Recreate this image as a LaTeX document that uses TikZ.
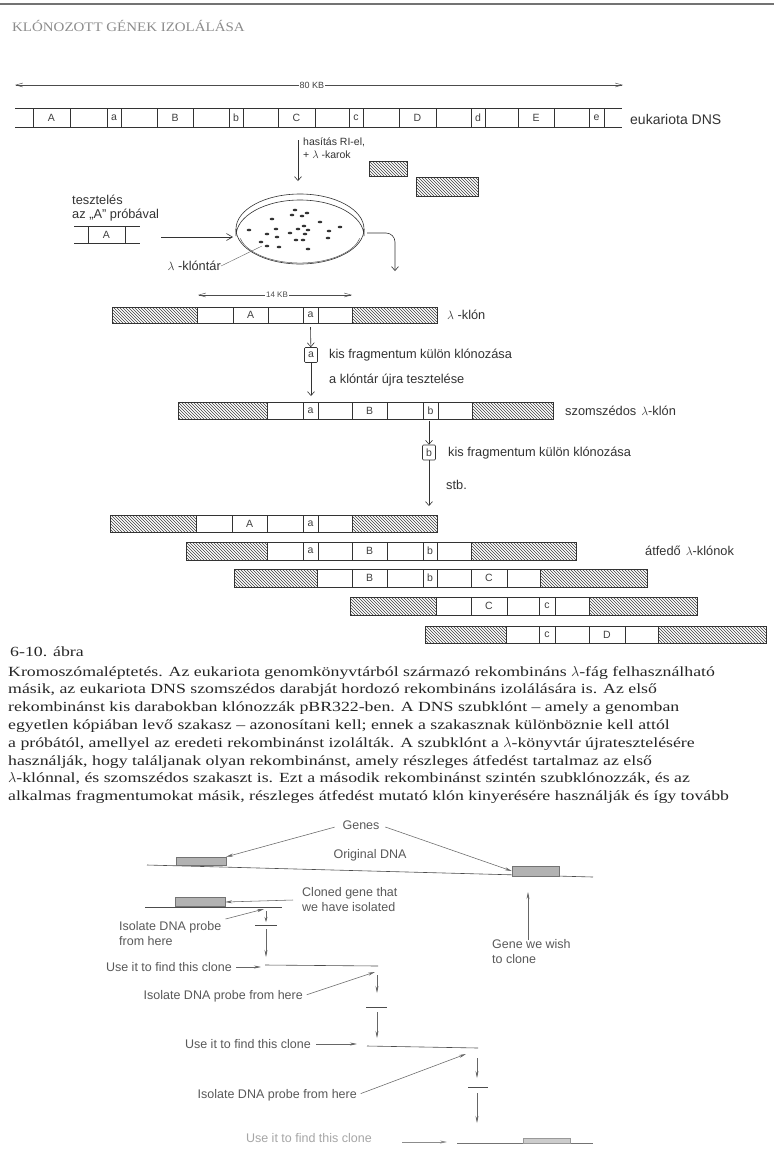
\documentclass[tikz,border=0pt]{standalone}
\usepackage{fontspec}
\setmainfont{Liberation Serif}
\setsansfont{Liberation Sans}
\newfontfamily\capfont[FakeStretch=1.27]{Liberation Serif}
\newfontfamily\ttlfont[FakeStretch=1.15]{Liberation Serif}
\usetikzlibrary{arrows.meta, patterns, positioning, calc}

\tikzset{
  hatch/.style={pattern=north west lines, pattern color=black!75},
  barline/.style={draw=black!80, line width=0.55pt},
  seglbl/.style={font=\sffamily\fontsize{10.5}{12}\selectfont, text=black!75, inner sep=0pt},
  sidelbl/.style={font=\sffamily\fontsize{12.8}{14}\selectfont, text=black!80, inner sep=0pt, anchor=west},
  fragbox/.style={draw=black!80, line width=0.6pt, rounded corners=1pt, seglbl, minimum width=13pt, minimum height=15pt},
  flow/.style={black!80, line width=0.6pt, -{Straight Barb[length=4pt,width=7pt]}},
  spanto/.style={black!70, line width=0.45pt, -{Straight Barb[length=7pt,width=4pt]}},
  capline/.style={font=\capfont\fontsize{14}{17.8}\selectfont, text=black!85, anchor=base west, inner sep=0pt},
  genebox/.style={fill=black!30, draw=black!55, line width=0.4pt, inner sep=0pt, minimum height=8pt},
  note/.style={font=\sffamily\fontsize{12.5}{15.5}\selectfont, text=black!65, inner sep=0pt},
  dnaline/.style={black!70, line width=0.6pt},
  pointer/.style={black!60, line width=0.55pt, -{Stealth[length=7pt,width=3pt]}},
}

\begin{document}
\begin{tikzpicture}[x=1pt, y=-1pt]
  \useasboundingbox (0,0) rectangle (774,1157);
  \fill[white] (0,0) rectangle (774,1157);

  % page header
  \draw[black!55, line width=2.5pt] (0,4) -- (774,4);
  \node[font=\ttlfont\fontsize{13}{15}\selectfont, text=black!45, anchor=west, inner sep=0pt] (pagettl) at (12,26) {KLÓNOZOTT GÉNEK IZOLÁLÁSA};

  % 80 KB
  \node[font=\sffamily\fontsize{9}{10}\selectfont, text=black!75, inner sep=1pt] (kb80) at (312,85) {80 KB};
  \coordinate (kb80L) at (15,85);
  \coordinate (kb80R) at (623,85);
  \draw[spanto] (kb80) -- (kb80L);
  \draw[spanto] (kb80) -- (kb80R);

  % eukariota DNS
  \draw[barline] (15,108) -- (622,108) (15,127) -- (622,127);
  \foreach \x in {33,70,107,121,157,193,229,243,278,315,349,363,399,436,471,485,518,554,589,604}
    \draw[barline] (\x,108) -- (\x,127);
  \foreach \l/\x in {A/51.5,a/114,B/175,b/236,C/296.5,c/356,D/417.5,d/478,E/536,e/596.5}
    \node[seglbl] (eu-\l) at (\x,117.5) {\l};
  \node[sidelbl, font=\sffamily\fontsize{14}{16}\selectfont] (eukdns) at (630,119) {eukariota DNS};

  % hasitas
  \coordinate (cutTop) at (298,140);
  \coordinate (cutBot) at (298,181);
  \draw[flow] (cutTop) -- (cutBot);
  \node[sidelbl, anchor=north west, align=left, font=\sffamily\fontsize{10.5}{12.5}\selectfont] (cutlbl) at (303,138) {hasítás RI-el,\\+ $\lambda$ -karok};
  \draw[barline, hatch] (369,161) rectangle (407,176);
  \draw[barline, hatch] (416,177) rectangle (478,196);

  % probe A
  \node[sidelbl, anchor=north west, align=left] (testlbl) at (72,195) {tesztelés\\az „A” próbával};
  \draw[barline] (74,226) -- (140,226) (74,243) -- (140,243) (88,226) -- (88,243) (125,226) -- (125,243);
  \node[seglbl] (probeA) at (106.5,234.5) {A};
  \coordinate (probeR) at (161,237);
  \coordinate (dishL) at (233,237);
  \draw[flow, -{Straight Barb[length=6pt,width=7pt]}] (probeR) -- (dishL);

  % dish
  \draw[black!80, line width=0.6pt] (300,229) ellipse (64 and 35);
  \draw[black!70, line width=0.45pt] (300,232) ++(168:61 and 31) arc (168:12:61 and 31);
  \draw[black!80, line width=0.6pt] (236,229) -- (236,236) arc (180:360:64 and 36) -- (364,229);
  \foreach \x/\y in {295/210,292/215,302/216,307/213,272/219,320/222,304/226,340/227,276/229,249/230,
                     298/229,308/230,329/231,267/234,290/233,305/234,277/237,328/238,296/240,261/242,
                     267/246,279/247,308/249,303/240}
    \fill[black!80] (\x,\y) ellipse (2.3 and 1.3);
  \coordinate (dishR) at (367,233);
  \coordinate (libOut) at (395,271);
  \draw[flow, rounded corners=9pt] (dishR) -- (395,233) -- (libOut);
  \node[sidelbl, anchor=east] (liblbl) at (221,266) {$\lambda$ -klóntár};
  \coordinate (libDot) at (262,246);
  \draw[black!60, line width=0.4pt] (liblbl.east) -- (libDot);

  % 14 KB
  \node[font=\sffamily\fontsize{8}{9}\selectfont, text=black!70, inner sep=1pt] (kb14) at (277,295) {14 KB};
  \coordinate (kb14L) at (198,295);
  \coordinate (kb14R) at (352,295);
  \draw[spanto] (kb14) -- (kb14L);
  \draw[spanto] (kb14) -- (kb14R);

  % lambda-klon
  \fill[hatch] (112,307) rectangle (197,323) (352,307) rectangle (437,323);
  \draw[barline] (112,307) rectangle (437,323);
  \foreach \x in {197,233,268,303,318,352} \draw[barline] (\x,307) -- (\x,323);
  \node[seglbl] (lk-A) at (250.5,315) {A};
  \node[seglbl] (lk-a) at (310.5,315) {a};
  \node[sidelbl] (lklbl) at (447,315) {$\lambda$ -klón};

  \coordinate (lkOut) at (310.5,327);
  \node[fragbox] (boxa) at (311,355) {a};
  \draw[flow] (lkOut) -- (boxa);
  \node[sidelbl] (kislbl1) at (329,355) {kis fragmentum külön klónozása};
  \coordinate (szIn) at (311,396);
  \draw[flow] (boxa) -- (szIn);
  \node[sidelbl] (retestlbl) at (329,380) {a klóntár újra tesztelése};

  % szomszedos lambda-klon
  \fill[hatch] (178,402) rectangle (267,419) (472,402) rectangle (553,419);
  \draw[barline] (178,402) rectangle (553,419);
  \foreach \x in {267,303,318,352,387,423,438,472} \draw[barline] (\x,402) -- (\x,419);
  \foreach \l/\x in {a/310.5,B/369.5,b/430.5} \node[seglbl] (sz-\l) at (\x,410.5) {\l};
  \node[sidelbl] (szlbl) at (565,411) {szomszédos\hspace{5pt}$\lambda$-klón};

  \coordinate (szOut) at (429,421);
  \node[fragbox] (boxb) at (429,452.5) {b};
  \draw[flow] (szOut) -- (boxb);
  \node[sidelbl] (kislbl2) at (448,453) {kis fragmentum külön klónozása};
  \coordinate (rowsIn) at (429,506);
  \draw[flow] (boxb) -- (rowsIn);
  \node[sidelbl] (stblbl) at (446,485) {stb.};

  % overlapping clones
  \fill[hatch] (110,515) rectangle (196,532) (352,515) rectangle (437,532);
  \draw[barline] (110,515) rectangle (437,532);
  \foreach \x in {196,232,267,303,318,352} \draw[barline] (\x,515) -- (\x,532);
  \foreach \l/\x in {A/249.5,a/310.5} \node[seglbl] (r1-\l) at (\x,523.5) {\l};

  \fill[hatch] (186,542) rectangle (267,560) (471,542) rectangle (576,560);
  \draw[barline] (186,542) rectangle (576,560);
  \foreach \x in {267,303,318,352,387,423,437,471} \draw[barline] (\x,542) -- (\x,560);
  \foreach \l/\x in {a/310.5,B/369.5,b/430} \node[seglbl] (r2-\l) at (\x,551) {\l};
  \node[sidelbl] (atlbl) at (645,551) {átfedő\hspace{5pt}$\lambda$-klónok};

  \fill[hatch] (234,569) rectangle (317,587) (540,569) rectangle (647,587);
  \draw[barline] (234,569) rectangle (647,587);
  \foreach \x in {317,352,387,423,437,471,507,540} \draw[barline] (\x,569) -- (\x,587);
  \foreach \l/\x in {B/369.5,b/430,C/489} \node[seglbl] (r3-\l) at (\x,578) {\l};

  \fill[hatch] (350,597) rectangle (436,615) (589,597) rectangle (697,615);
  \draw[barline] (350,597) rectangle (697,615);
  \foreach \x in {436,471,507,539,555,589} \draw[barline] (\x,597) -- (\x,615);
  \foreach \l/\x in {C/489,c/547} \node[seglbl] (r4-\l) at (\x,606) {\l};

  \fill[hatch] (425,626) rectangle (506,643) (658,626) rectangle (766,643);
  \draw[barline] (425,626) rectangle (766,643);
  \foreach \x in {506,539,555,589,625,658} \draw[barline] (\x,626) -- (\x,643);
  \foreach \l/\x in {c/547,D/607} \node[seglbl] (r5-\l) at (\x,634.5) {\l};

  % caption
  \node[capline] (capttl) at (10,656) {6-10. ábra};
  \node[capline] (cap1) at (8,676) {Kromoszómaléptetés. Az eukariota genomkönyvtárból származó rekombináns $\lambda$-fág felhasználható};
  \node[capline] (cap2) at (8,693.8) {másik, az eukariota DNS szomszédos darabját hordozó rekombináns izolálására is. Az első};
  \node[capline] (cap3) at (8,711.6) {rekombinánst kis darabokban klónozzák pBR322-ben. A DNS szubklónt – amely a genomban};
  \node[capline] (cap4) at (8,729.4) {egyetlen kópiában levő szakasz – azonosítani kell; ennek a szakasznak különböznie kell attól};
  \node[capline] (cap5) at (8,747.2) {a próbától, amellyel az eredeti rekombinánst izolálták. A szubklónt a $\lambda$-könyvtár újratesztelésére};
  \node[capline] (cap6) at (8,765) {használják, hogy találjanak olyan rekombinánst, amely részleges átfedést tartalmaz az első};
  \node[capline] (cap7) at (8,782.8) {$\lambda$-klónnal, és szomszédos szakaszt is. Ezt a második rekombinánst szintén szubklónozzák, és az};
  \node[capline] (cap8) at (8,800.6) {alkalmas fragmentumokat másik, részleges átfedést mutató klón kinyerésére használják és így tovább};

  % chromosome walking sketch
  \node[note] (genes) at (361,825) {Genes};
  \node[note] (origdna) at (370,855) {Original DNA};
  \draw[dnaline] (147,865) -- (593,877);
  \node[genebox, minimum width=50pt] (gene1) at (201,861) {};
  \node[genebox, minimum width=47pt, minimum height=10pt] (gene2) at (535.5,871) {};
  \draw[pointer, shorten <=8pt] (genes.west) -- (gene1.north east);
  \draw[pointer, shorten <=6pt] (genes.east) -- (gene2.west);

  \draw[dnaline] (145,907) -- (282,907);
  \node[genebox, minimum width=50pt, minimum height=9pt] (clone0) at (200,902) {};
  \node[note, anchor=north west, align=left] (clonedlbl) at (302,887) {Cloned gene that\\we have isolated};
  \coordinate (clonedFrom) at (293,900);
  \draw[pointer] (clonedFrom) -- (clone0.east);

  \node[note, anchor=north west, align=left] (wishlbl) at (492,939) {Gene we wish\\to clone};
  \coordinate (wishFrom) at (528,940);
  \coordinate (wishTo) at (528,892);
  \draw[pointer] (wishFrom) -- (wishTo);

  % step 1
  \node[note, anchor=north west, align=left] (iso1) at (119,921) {Isolate DNA probe\\from here};
  \coordinate (iso1To) at (264,909);
  \draw[pointer] ([shift={(4,-2)}]iso1.north east) -- (iso1To);
  \coordinate (p1a) at (266,911);
  \coordinate (p1b) at (266,922);
  \coordinate (p1c) at (266,929);
  \coordinate (p1d) at (266,957);
  \draw[pointer, -{Stealth[length=5pt,width=3pt]}] (p1a) -- (p1b);
  \draw[dnaline] (255,925) -- (277,925);
  \draw[pointer] (p1c) -- (p1d);
  \node[note, anchor=east] (use1) at (232,967) {Use it to find this clone};
  \coordinate (use1To) at (261,967);
  \draw[pointer, shorten <=4pt] (use1) -- (use1To);
  \draw[dnaline] (265,965) -- (378,966);

  % step 2
  \node[note, anchor=east] (iso2) at (303,996) {Isolate DNA probe from here};
  \coordinate (iso2To) at (375,972);
  \draw[pointer, shorten <=4pt] (iso2.east) -- (iso2To);
  \coordinate (p2a) at (377,975);
  \coordinate (p2b) at (377,993);
  \coordinate (p2c) at (377,1012);
  \coordinate (p2d) at (377,1038);
  \draw[pointer] (p2a) -- (p2b);
  \draw[dnaline] (366,1007) -- (387,1007);
  \draw[pointer] (p2c) -- (p2d);
  \node[note, anchor=east] (use2) at (311,1044) {Use it to find this clone};
  \coordinate (use2To) at (357,1044);
  \draw[pointer, shorten <=5pt] (use2) -- (use2To);
  \draw[dnaline] (367,1046) -- (478,1048);

  % step 3
  \node[note, anchor=east] (iso3) at (357,1095) {Isolate DNA probe from here};
  \coordinate (iso3To) at (466,1054);
  \draw[pointer, shorten <=4pt] (iso3.east) -- (iso3To);
  \coordinate (p3a) at (477,1058);
  \coordinate (p3b) at (477,1078);
  \coordinate (p3c) at (477,1093);
  \coordinate (p3d) at (477,1123);
  \draw[pointer] (p3a) -- (p3b);
  \draw[dnaline] (468,1087) -- (488,1087);
  \draw[pointer] (p3c) -- (p3d);
  \node[note, anchor=east, text=black!35] (use3) at (372,1138) {Use it to find this clone};
  \coordinate (use3From) at (402,1142);
  \coordinate (use3To) at (447,1142);
  \draw[pointer, black!45] (use3From) -- (use3To);
  \draw[dnaline, black!55] (457,1143) -- (593,1143);
  \node[genebox, minimum width=47pt, minimum height=5pt, fill=black!20, draw=black!40] (gene3) at (546.5,1140.5) {};
\end{tikzpicture}
\end{document}
